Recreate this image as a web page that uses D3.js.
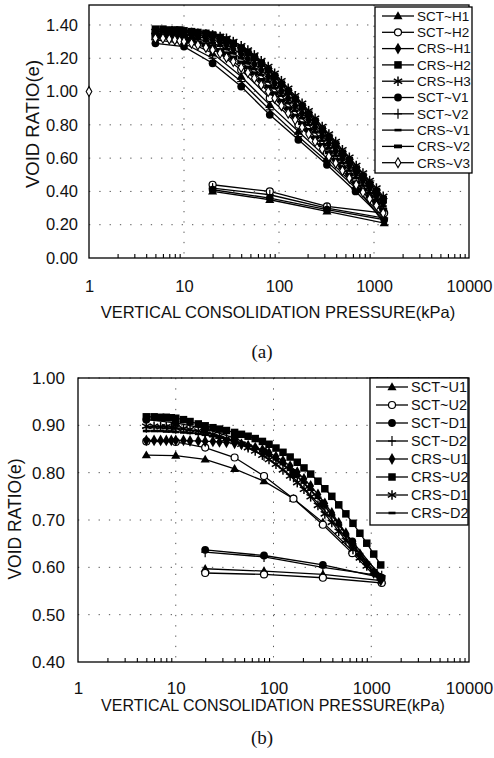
<!DOCTYPE html>
<html><head><meta charset="utf-8">
<script src="https://cdn.jsdelivr.net/npm/d3@7"></script>
<style>body{margin:0;background:#fff}svg{display:block}</style>
</head><body>
<svg id="c" width="494" height="758"></svg>
<script>
// ---------- shared data ----------
const xTickLabels = [1, 10, 100, 1000, 10000];
const yTicksA = [0.0, 0.2, 0.4, 0.6, 0.8, 1.0, 1.2, 1.4];
const yTicksB = [0.4, 0.5, 0.6, 0.7, 0.8, 0.9, 1.0];
const sctP = [5, 10, 20, 40, 80, 160, 320, 640, 1280];
const sctUnP = [320, 80, 20];
const crsP = [5,6,7,8,9,10,12,14,17,20,24,28,33,40,47,55,65,77,90,106,125,148,175,205,240,285,335,395,465,550,650,765,900,1060,1250];

// ---------- chart (a) ----------
const aNames = ["SCT~H1","SCT~H2","CRS~H1","CRS~H2","CRS~H3","SCT~V1","SCT~V2","CRS~V1","CRS~V2","CRS~V3"];
const aSCT_H1 = [1.33,1.31,1.23,1.09,0.92,0.76,0.60,0.43,0.21];
const aSCT_H1_un = [0.28,0.35,0.40];
const aSCT_H2 = [1.35,1.33,1.26,1.13,0.96,0.80,0.63,0.46,0.27];
const aSCT_H2_un = [0.31,0.40,0.44];
const aSCT_V1 = [1.29,1.27,1.17,1.03,0.86,0.71,0.56,0.40,0.23];
const aSCT_V1_un = [0.29,0.36,0.41];
const aSCT_V2 = [1.31,1.29,1.20,1.06,0.89,0.73,0.58,0.42,0.24];
const aSCT_V2_un = [0.30,0.38,0.42];
const aCRS_H1 = [1.35,1.35,1.35,1.345,1.345,1.34,1.335,1.33,1.32,1.31,1.295,1.28,1.255,1.225,1.195,1.165,1.13,1.09,1.05,1.005,0.96,0.915,0.87,0.83,0.785,0.735,0.69,0.645,0.60,0.555,0.51,0.465,0.42,0.375,0.33];
const aCRS_H2 = [1.375,1.375,1.37,1.37,1.37,1.365,1.36,1.355,1.35,1.34,1.325,1.31,1.29,1.26,1.235,1.205,1.17,1.13,1.09,1.045,1.00,0.955,0.91,0.865,0.82,0.77,0.725,0.68,0.63,0.585,0.535,0.49,0.445,0.40,0.35];
const aCRS_H3 = [1.36,1.36,1.36,1.36,1.36,1.355,1.355,1.35,1.345,1.34,1.33,1.32,1.30,1.275,1.25,1.22,1.185,1.15,1.11,1.065,1.02,0.975,0.93,0.885,0.84,0.79,0.745,0.70,0.65,0.605,0.555,0.51,0.465,0.42,0.37];
const aCRS_V1 = [1.34,1.34,1.335,1.335,1.33,1.33,1.32,1.315,1.305,1.29,1.275,1.255,1.23,1.20,1.17,1.135,1.10,1.06,1.02,0.975,0.93,0.885,0.84,0.80,0.755,0.705,0.66,0.615,0.57,0.525,0.48,0.435,0.39,0.35,0.31];
const aCRS_V2 = [1.33,1.33,1.325,1.32,1.32,1.315,1.305,1.295,1.285,1.27,1.25,1.23,1.205,1.175,1.145,1.11,1.07,1.03,0.99,0.945,0.90,0.855,0.81,0.77,0.725,0.68,0.635,0.59,0.545,0.50,0.455,0.41,0.37,0.33,0.29];
const aCRS_V3 = [1.32,1.32,1.315,1.31,1.305,1.30,1.29,1.28,1.265,1.25,1.23,1.205,1.18,1.145,1.115,1.08,1.04,1.00,0.96,0.915,0.87,0.83,0.785,0.745,0.70,0.655,0.61,0.57,0.525,0.48,0.44,0.395,0.355,0.315,0.27];
const aInitialP = [1];
const aInitialE = [1.00];

// ---------- chart (b) ----------
const bNames = ["SCT~U1","SCT~U2","SCT~D1","SCT~D2","CRS~U1","CRS~U2","CRS~D1","CRS~D2"];
const bSCT_U1 = [0.837,0.836,0.828,0.808,0.782,0.745,0.695,0.635,0.572];
const bSCT_U1_un = [0.585,0.592,0.597];
const bSCT_U2 = [0.866,0.865,0.853,0.832,0.793,0.745,0.690,0.630,0.567];
const bSCT_U2_un = [0.578,0.585,0.588];
const bSCT_D1 = [0.912,0.905,0.893,0.873,0.845,0.800,0.735,0.655,0.578];
const bSCT_D1_un = [0.605,0.625,0.637];
const bSCT_D2 = [0.895,0.893,0.885,0.866,0.835,0.790,0.725,0.645,0.582];
const bSCT_D2_un = [0.600,0.622,0.632];
const bCRS_U1 = [0.868,0.868,0.868,0.868,0.868,0.868,0.868,0.867,0.867,0.866,0.866,0.865,0.864,0.862,0.860,0.857,0.853,0.848,0.842,0.834,0.825,0.814,0.801,0.787,0.772,0.754,0.735,0.715,0.694,0.672,0.650,0.628,0.607,0.588,0.572];
const bCRS_U2 = [0.918,0.918,0.917,0.917,0.916,0.915,0.912,0.908,0.903,0.899,0.895,0.892,0.889,0.885,0.881,0.877,0.872,0.866,0.860,0.852,0.843,0.833,0.822,0.810,0.797,0.782,0.766,0.750,0.732,0.713,0.693,0.672,0.651,0.628,0.605];
const bCRS_D1 = [0.898,0.898,0.897,0.897,0.896,0.895,0.893,0.891,0.888,0.885,0.881,0.877,0.872,0.866,0.860,0.853,0.846,0.837,0.828,0.818,0.806,0.793,0.779,0.765,0.749,0.731,0.713,0.695,0.676,0.657,0.638,0.620,0.603,0.590,0.578];
const bCRS_D2 = [0.888,0.888,0.888,0.887,0.887,0.886,0.885,0.884,0.882,0.880,0.877,0.874,0.871,0.867,0.863,0.858,0.852,0.845,0.837,0.828,0.818,0.806,0.793,0.779,0.764,0.747,0.729,0.710,0.690,0.669,0.648,0.628,0.610,0.594,0.580];

// ---------- build series tables ----------
const join = (p, v) => p.map((d, i) => [d, v[i]]);
const seriesA = [
  {name: aNames[0], m: "triangle", pts: join(sctP, aSCT_H1).concat(join(sctUnP, aSCT_H1_un))},
  {name: aNames[1], m: "circleOpen", pts: join(sctP, aSCT_H2).concat(join(sctUnP, aSCT_H2_un))},
  {name: aNames[2], m: "diamond", pts: join(crsP, aCRS_H1)},
  {name: aNames[3], m: "square", pts: join(crsP, aCRS_H2)},
  {name: aNames[4], m: "asterisk", pts: join(crsP, aCRS_H3)},
  {name: aNames[5], m: "circle", pts: join(sctP, aSCT_V1).concat(join(sctUnP, aSCT_V1_un))},
  {name: aNames[6], m: "plus", pts: join(sctP, aSCT_V2).concat(join(sctUnP, aSCT_V2_un))},
  {name: aNames[7], m: "dash", pts: join(crsP, aCRS_V1)},
  {name: aNames[8], m: "dashThick", pts: join(crsP, aCRS_V2)},
  {name: aNames[9], m: "diamondOpen", pts: join(crsP, aCRS_V3)}
];
const seriesB = [
  {name: bNames[0], m: "triangle", pts: join(sctP, bSCT_U1).concat(join(sctUnP, bSCT_U1_un))},
  {name: bNames[1], m: "circleOpen", pts: join(sctP, bSCT_U2).concat(join(sctUnP, bSCT_U2_un))},
  {name: bNames[2], m: "circle", pts: join(sctP, bSCT_D1).concat(join(sctUnP, bSCT_D1_un))},
  {name: bNames[3], m: "plus", pts: join(sctP, bSCT_D2).concat(join(sctUnP, bSCT_D2_un))},
  {name: bNames[4], m: "diamond", pts: join(crsP, bCRS_U1)},
  {name: bNames[5], m: "square", pts: join(crsP, bCRS_U2)},
  {name: bNames[6], m: "asterisk", pts: join(crsP, bCRS_D1)},
  {name: bNames[7], m: "dash", pts: join(crsP, bCRS_D2)}
];

// ---------- drawing ----------
const svg = d3.select("#c");
const FONT = "'Liberation Sans', Arial, sans-serif";

function drawMarker(g, type, x, y, k) {
  k = k || 1;
  const sk = Math.sqrt(k);
  if (type === "triangle") {
    g.append("path").attr("d", d3.symbol(d3.symbolTriangle, 36 * k)()).attr("transform", `translate(${x},${y + 0.5})`).attr("fill", "#000");
  } else if (type === "circleOpen") {
    g.append("circle").attr("cx", x).attr("cy", y).attr("r", 3.5 * sk).attr("fill", "#fff").attr("stroke", "#000").attr("stroke-width", 1.2);
  } else if (type === "circle") {
    g.append("circle").attr("cx", x).attr("cy", y).attr("r", 3.9 * sk).attr("fill", "#000");
  } else if (type === "diamond") {
    g.append("path").attr("d", d3.symbol(d3.symbolDiamond, 40 * k)()).attr("transform", `translate(${x},${y})`).attr("fill", "#000");
  } else if (type === "square") {
    const s = 7.5 * sk;
    g.append("rect").attr("x", x - s / 2).attr("y", y - s / 2).attr("width", s).attr("height", s).attr("fill", "#000");
  } else if (type === "asterisk") {
    const r = 4.8 * sk;
    [90, 30, 150].forEach(a => {
      const dx = r * Math.cos(a * Math.PI / 180), dy = r * Math.sin(a * Math.PI / 180);
      g.append("line").attr("x1", x - dx).attr("y1", y - dy).attr("x2", x + dx).attr("y2", y + dy).attr("stroke", "#000").attr("stroke-width", 1.5);
    });
  } else if (type === "plus") {
    g.append("line").attr("x1", x - 4).attr("x2", x + 4).attr("y1", y).attr("y2", y).attr("stroke", "#000").attr("stroke-width", 1.2);
    g.append("line").attr("x1", x).attr("x2", x).attr("y1", y - 5).attr("y2", y + 5).attr("stroke", "#000").attr("stroke-width", 1.2);
  } else if (type === "dash") {
    g.append("rect").attr("x", x - 3.5).attr("y", y - 1.3).attr("width", 7).attr("height", 2.6).attr("fill", "#000");
  } else if (type === "dashThick") {
    g.append("rect").attr("x", x - 4).attr("y", y - 1.9).attr("width", 8).attr("height", 3.8).attr("fill", "#000");
  } else if (type === "diamondOpen") {
    g.append("path").attr("d", d3.symbol(d3.symbolDiamond, 28 * k)()).attr("transform", `translate(${x},${y})`).attr("fill", "#fff").attr("stroke", "#000").attr("stroke-width", 1.1);
  }
}

function drawChart(cfg) {
  const {left, right, top, bottom, yDomain, yTicks, series, extra, legend, fs} = cfg;
  const x = d3.scaleLog().domain([1, 10000]).range([left, right]);
  const y = d3.scaleLinear().domain(yDomain).range([bottom, top]);
  const g = svg.append("g");

  // dotted grid
  const grid = g.append("g").attr("stroke", "#555").attr("stroke-width", 1).attr("stroke-dasharray", "1.3,9");
  yTicks.forEach(t => {
    if (t === yDomain[0]) return;
    grid.append("line").attr("x1", left).attr("x2", right).attr("y1", y(t)).attr("y2", y(t));
  });
  xTickLabels.slice(1, -1).forEach(t => {
    grid.append("line").attr("x1", x(t)).attr("x2", x(t)).attr("y1", top).attr("y2", bottom);
  });

  // minor ticks (inside, upward)
  const minor = [];
  [1, 10, 100, 1000].forEach(d => { for (let k = 2; k <= 9; k++) minor.push(k * d); });
  const ax = g.append("g").attr("transform", `translate(0,${bottom})`)
    .call(d3.axisBottom(x).tickValues(minor).tickSize(-4).tickFormat(""));
  ax.select(".domain").remove();
  ax.selectAll("line").attr("stroke", "#000").attr("stroke-width", 1.1);

  // x labels
  const axl = g.append("g").attr("transform", `translate(0,${bottom})`)
    .call(d3.axisBottom(x).tickValues(xTickLabels).tickSize(0).tickPadding(cfg.xPad).tickFormat(d3.format("d")));
  axl.select(".domain").remove();
  axl.selectAll("text").attr("font-family", FONT).attr("font-size", fs.tick).attr("fill", "#111");

  // y labels
  const ayl = g.append("g").attr("transform", `translate(${left},0)`)
    .call(d3.axisLeft(y).tickValues(yTicks).tickSize(0).tickPadding(cfg.yPad).tickFormat(d3.format(".2f")));
  ayl.select(".domain").remove();
  ayl.selectAll("text").attr("font-family", FONT).attr("font-size", fs.tick).attr("fill", "#111");

  // frame
  g.append("rect").attr("x", left).attr("y", top).attr("width", right - left).attr("height", bottom - top)
    .attr("fill", "none").attr("stroke", "#000").attr("stroke-width", 1.3);

  // series
  const line = d3.line().x(d => x(d[0])).y(d => y(d[1]));
  const sg = g.append("g");
  series.forEach(s => {
    sg.append("path").attr("d", line(s.pts)).attr("fill", "none").attr("stroke", "#000").attr("stroke-width", 1.3);
  });
  series.forEach(s => {
    const mg = sg.append("g");
    s.pts.forEach(p => drawMarker(mg, s.m, x(p[0]), y(p[1])));
  });
  if (extra) extra.pts.forEach(p => drawMarker(sg, extra.m, x(p[0]), y(p[1])));

  // legend
  const lg = g.append("g");
  lg.append("rect").attr("x", legend.x).attr("y", legend.y).attr("width", legend.w).attr("height", legend.h)
    .attr("fill", "#fff").attr("stroke", "#000").attr("stroke-width", 1.3);
  series.forEach((s, i) => {
    const yy = legend.y0 + i * legend.step;
    lg.append("line").attr("x1", legend.lx1).attr("x2", legend.lx2).attr("y1", yy).attr("y2", yy).attr("stroke", "#000").attr("stroke-width", 1.3);
    drawMarker(lg, s.m, (legend.lx1 + legend.lx2) / 2, yy);
    lg.append("text").attr("x", legend.tx).attr("y", yy).attr("dy", "0.36em")
      .attr("font-family", FONT).attr("font-size", fs.legend).attr("fill", "#111").text(s.name);
  });

  // axis titles
  g.append("text").attr("x", cfg.xTitle[0]).attr("y", cfg.xTitle[1]).attr("text-anchor", "middle")
    .attr("font-family", FONT).attr("font-size", fs.xTitle).attr("fill", "#111").text("VERTICAL CONSOLIDATION PRESSURE(kPa)");
  g.append("text").attr("transform", `translate(${cfg.yTitle[0]},${cfg.yTitle[1]}) rotate(-90)`).attr("text-anchor", "middle")
    .attr("font-family", FONT).attr("font-size", fs.yTitle).attr("fill", "#111").text("VOID RATIO(e)");
  g.append("text").attr("x", cfg.cap[0]).attr("y", cfg.cap[1]).attr("text-anchor", "middle")
    .attr("font-family", "'Liberation Serif', 'Times New Roman', serif").attr("font-size", 19).attr("fill", "#111").text(cfg.cap[2]);
}

drawChart({
  left: 89, right: 469, top: 5, bottom: 258, yDomain: [0, 1.52], yTicks: yTicksA,
  series: seriesA, extra: {m: "diamondOpen", pts: join(aInitialP, aInitialE)},
  xPad: 22, yPad: 11,
  fs: {tick: 16.5, legend: 13.5, xTitle: 16.5, yTitle: 18.5},
  legend: {x: 375, y: 7, w: 97, h: 166, y0: 16, step: 16.3, lx1: 382, lx2: 414, tx: 417},
  xTitle: [278, 318], yTitle: [38.5, 124], cap: [262, 358, "(a)"]
});

drawChart({
  left: 78, right: 469, top: 378, bottom: 662, yDomain: [0.4, 1.0], yTicks: yTicksB,
  series: seriesB, extra: null,
  xPad: 20, yPad: 13,
  fs: {tick: 17, legend: 14.5, xTitle: 16, yTitle: 17.5},
  legend: {x: 370, y: 378, w: 98, h: 147, y0: 387, step: 18, lx1: 376, lx2: 408, tx: 411},
  xTitle: [273, 711], yTitle: [20.5, 519], cap: [262, 744, "(b)"]
});
</script>
</body></html>
